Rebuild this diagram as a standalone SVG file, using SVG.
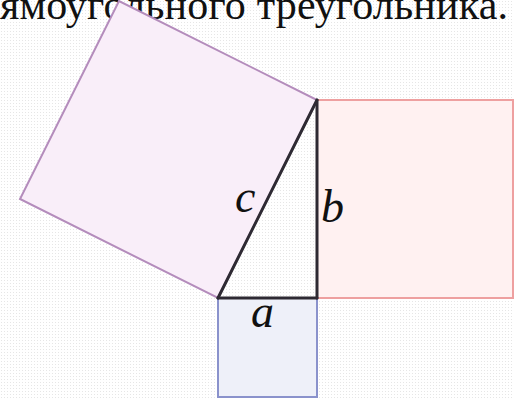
<svg xmlns="http://www.w3.org/2000/svg" width="514" height="398" viewBox="0 0 514 398">
<defs>
<pattern id="dots" width="3" height="3" patternUnits="userSpaceOnUse">
<rect width="3" height="3" fill="#ffffff"/>
<rect x="1" y="1" width="1" height="1" fill="#e6e6e6"/>
</pattern>
<style>
.lbl{font-family:"Liberation Serif","Times New Roman",serif;font-style:italic;font-size:46px;fill:#111}
.title{font-family:"Liberation Serif","Times New Roman",serif;font-size:42px;fill:#111}
.side{stroke:#2e2a33;stroke-width:3;fill:none;stroke-linecap:round}
</style>
</defs>
<rect width="514" height="398" fill="url(#dots)"/>
<text class="title" x="0" y="19" textLength="508" lengthAdjust="spacing">ямоугольного треугольника.</text>
<g id="square-c">
<polygon points="218,298 317,100 119,1 20,199" fill="#f9eef9" stroke="#b48cbc" stroke-width="2"/>
</g>
<g id="square-b">
<rect x="317" y="100" width="196" height="198" fill="#fff1f1" stroke="#eea0a0" stroke-width="2"/>
</g>
<g id="square-a">
<rect x="218" y="298" width="99" height="99" fill="#eef0f9" stroke="#8a92cc" stroke-width="2"/>
</g>
<g id="triangle">
<polygon points="218,298 317,298 317,100" fill="url(#dots)"/>
</g>
<g id="connectors">
<line class="side" x1="218" y1="298" x2="317" y2="100"/>
<line class="side" x1="317" y1="100" x2="317" y2="298"/>
<line class="side" x1="218" y1="298" x2="317" y2="298"/>
</g>
<g id="labels">
<text class="lbl" x="235" y="212">c</text>
<text class="lbl" x="321" y="222">b</text>
<text class="lbl" x="251" y="327">a</text>
</g>
</svg>
